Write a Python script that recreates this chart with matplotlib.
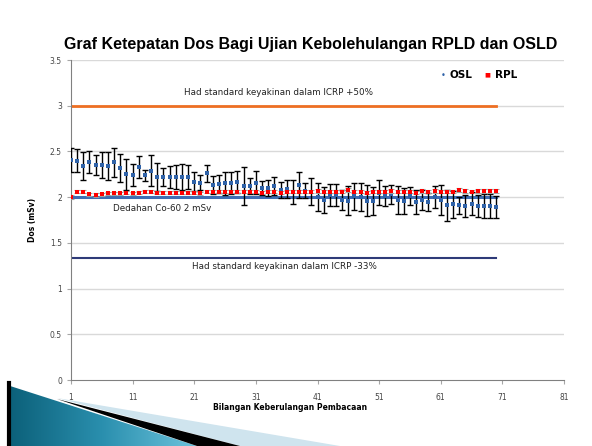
import numpy as np
import matplotlib.pyplot as plt
from matplotlib.patches import Polygon
from matplotlib.colors import LinearSegmentedColormap

# Data
readings = list(range(1, 71))

osl_mean = [2.41, 2.40, 2.34, 2.38, 2.35, 2.35, 2.34, 2.38, 2.32, 2.25,
            2.24, 2.33, 2.24, 2.29, 2.22, 2.22, 2.22, 2.22, 2.22, 2.22,
            2.17, 2.16, 2.26, 2.13, 2.14, 2.15, 2.15, 2.17, 2.12, 2.12,
            2.16, 2.10, 2.10, 2.12, 2.08, 2.09, 2.06, 2.13, 2.07, 2.06,
            2.00, 1.97, 2.02, 2.02, 1.97, 1.96, 2.01, 2.00, 1.96, 1.96,
            2.05, 2.01, 2.03, 1.97, 1.96, 2.01, 1.95, 1.97, 1.95, 2.00,
            1.97, 1.91, 1.92, 1.91, 1.90, 1.93, 1.90, 1.90, 1.90, 1.89]

osl_err = [0.13, 0.13, 0.15, 0.12, 0.11, 0.14, 0.15, 0.16, 0.15, 0.17,
           0.12, 0.12, 0.06, 0.17, 0.15, 0.10, 0.12, 0.13, 0.14, 0.13,
           0.10, 0.08, 0.09, 0.10, 0.10, 0.13, 0.12, 0.12, 0.21, 0.09,
           0.13, 0.08, 0.09, 0.10, 0.09, 0.10, 0.13, 0.14, 0.08, 0.15,
           0.15, 0.14, 0.12, 0.12, 0.11, 0.16, 0.15, 0.15, 0.17, 0.15,
           0.14, 0.11, 0.10, 0.15, 0.14, 0.10, 0.13, 0.11, 0.10, 0.12,
           0.16, 0.17, 0.15, 0.09, 0.12, 0.13, 0.12, 0.13, 0.13, 0.12]

rpl_mean = [2.00, 2.06, 2.06, 2.03, 2.02, 2.03, 2.04, 2.04, 2.04, 2.05,
            2.04, 2.05, 2.06, 2.06, 2.05, 2.05, 2.05, 2.05, 2.05, 2.05,
            2.05, 2.04, 2.06, 2.06, 2.06, 2.06, 2.06, 2.06, 2.06, 2.06,
            2.06, 2.05, 2.06, 2.06, 2.05, 2.06, 2.06, 2.06, 2.06, 2.06,
            2.07, 2.06, 2.06, 2.06, 2.06, 2.08, 2.06, 2.06, 2.05, 2.06,
            2.06, 2.06, 2.07, 2.06, 2.06, 2.06, 2.05, 2.07, 2.06, 2.07,
            2.06, 2.06, 2.06, 2.08, 2.07, 2.06, 2.07, 2.07, 2.07, 2.07]

rpl_err = 0.02

upper_limit = 3.0      # ICRP +50%
exposure = 2.0         # Co-60 2 mSv
lower_limit = 1.33     # ICRP -33%

x_ticks = [1, 11, 21, 31, 41, 51, 61, 71, 81]
y_ticks = [0, 0.5, 1, 1.5, 2, 2.5, 3, 3.5]
y_labels = ['0', '0.5', '1', '1.5', '2', '2.5', '3', '3.5']

W, H = 592, 446
fig = plt.figure(figsize=(W / 100, H / 100), dpi=100)
fig.patch.set_facecolor('white')

# slide decoration in the lower left corner (pixel coordinates)
deco = fig.add_axes([0, 0, 1, 1], zorder=0)
deco.set_xlim(0, W)
deco.set_ylim(H, 0)
deco.axis('off')
grad = np.linspace(0, 1, 256).reshape(1, -1)
teal = Polygon([(7, 385), (197, 446), (7, 446)], closed=True,
               facecolor='none', edgecolor='none')
deco.add_patch(teal)
img = deco.imshow(grad, extent=(7, 197, 446, 385), aspect='auto',
                  cmap=LinearSegmentedColormap.from_list(
                      'tl', ['#0b5f78', '#2a8fae', '#6cc3dc']))
img.set_clip_path(teal)
deco.add_patch(Polygon([(57, 398), (340, 446), (240, 446)], closed=True,
                       facecolor='#cfe4ee', edgecolor='none', hatch='....',
                       linewidth=0))
deco.add_patch(Polygon([(57, 399), (240, 446), (197, 446)], closed=True,
                       facecolor='black', edgecolor='none'))
deco.plot([8.5, 8.5], [383, 446], color='black', lw=3)

ax = fig.add_axes([71 / W, 1 - 380 / H, (564 - 71) / W, 320 / H], zorder=1)
ax.set_facecolor('none')
ax.set_xlim(1, 81)
ax.set_ylim(0, 3.5)

for y in y_ticks[1:]:
    ax.axhline(y, color='#d9d9d9', lw=1, zorder=0)

x0, x1 = readings[0], readings[-1]
ax.plot([x0, x1], [upper_limit, upper_limit], color='#ee6f22', lw=2, zorder=2)
ax.plot([x0, x1], [exposure, exposure], color='#3f6db3', lw=2.2, zorder=2)
ax.plot([x0, x1], [lower_limit, lower_limit], color='#2e3a78', lw=1.5, zorder=2)

# OSL: black error bars with caps, tiny blue markers
ax.errorbar(readings, osl_mean, yerr=osl_err, fmt='none', ecolor='black',
            elinewidth=1, capsize=2, capthick=1, zorder=3)
ax.plot(readings, osl_mean, 's', color='#2f62a8', ms=2.3, mew=0, zorder=3.5,
        label='OSL')

# RPL: red squares with short grey bars
ax.errorbar(readings, rpl_mean, yerr=rpl_err, fmt='none', ecolor='#a0a0a0',
            elinewidth=0.8, capsize=2, capthick=0.8, zorder=4)
ax.plot(readings, rpl_mean, 's', color='#ff0000', ms=3.2, mew=0, zorder=4.5,
        label='RPL')

ax.text(34.6, 3.14, 'Had standard keyakinan dalam ICRP +50%', fontsize=6.3,
        ha='center', va='center', color='#222222')
ax.text(15.8, 1.88, 'Dedahan Co-60 2 mSv', fontsize=6.3,
        ha='center', va='center', color='#222222')
ax.text(35.7, 1.24, 'Had standard keyakinan dalam ICRP -33%', fontsize=6.3,
        ha='center', va='center', color='#222222')

ax.set_xticks(x_ticks)
ax.set_yticks(y_ticks)
ax.set_yticklabels(y_labels)
ax.tick_params(axis='both', labelsize=5.5, labelcolor='#444444',
               colors='#a6a6a6', length=3, width=0.8)
ax.tick_params(axis='x', pad=6)
for s in ['top', 'right']:
    ax.spines[s].set_visible(False)
ax.spines['left'].set_color('#808080')
ax.spines['bottom'].set_color('#808080')

fig.text(311 / W, 1 - 45 / H,
         'Graf Ketepatan Dos Bagi Ujian Kebolehulangan RPLD dan OSLD',
         family='Liberation Sans', fontweight='bold', fontsize=11.5,
         ha='center', va='center')
fig.text(33 / W, 1 - 220 / H, 'Dos (mSv)', rotation=90, fontsize=5.5,
         fontweight='bold', ha='center', va='center')
fig.text(290 / W, 1 - 408 / H, 'Bilangan Keberulangan Pembacaan',
         fontsize=5.5, fontweight='bold', ha='center', va='center')

# legend drawn as text so it sits like the original
fig.text(443 / W, 1 - 75 / H, '•', color='#2f62a8', fontsize=6,
         ha='center', va='center')
fig.text(450 / W, 1 - 75 / H, 'OSL', fontsize=7.5, fontweight='bold',
         ha='left', va='center')
fig.text(487 / W, 1 - 75 / H, '■', color='#ff0000', fontsize=4.5,
         ha='center', va='center')
fig.text(495 / W, 1 - 75 / H, 'RPL', fontsize=7.5, fontweight='bold',
         ha='left', va='center')

fig.savefig('out.png', dpi=100)
